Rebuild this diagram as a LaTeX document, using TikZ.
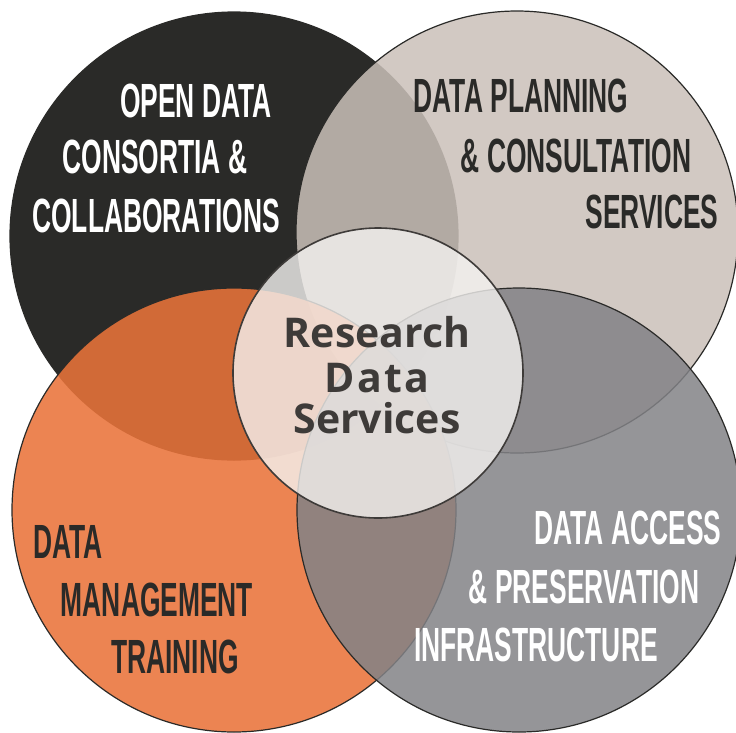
\documentclass[tikz,border=0pt]{standalone}
\usepackage{fontspec}
\usepackage{tikz}
\newfontfamily\bannerfont[FakeStretch=0.55]{Liberation Sans}
\newfontfamily\hubfont{Open Sans}
\definecolor{coal}{RGB}{42,42,40}
\definecolor{stone}{RGB}{202,192,185}
\definecolor{rust}{RGB}{233,115,58}
\definecolor{slate}{RGB}{130,130,134}
\definecolor{mist}{RGB}{244,242,240}
\definecolor{inkgrey}{RGB}{62,59,57}

\begin{document}
\begin{tikzpicture}[x=1pt,y=-1pt,
    ring/.style={draw=coal,line width=1.2pt},
    capsdark/.style={text=coal,anchor=base,inner sep=0pt,font=\bannerfont\bfseries\fontsize{48}{48}\selectfont},
    capslight/.style={capsdark,text=white},
    hub/.style={text=inkgrey,anchor=base,inner sep=0pt,font=\hubfont\bfseries\fontsize{41}{41}\selectfont}]
  \useasboundingbox (0,0) rectangle (736,732);
  % the four service areas
  \filldraw[ring,fill=coal] (234,236) circle[radius=224pt];
  \filldraw[ring,fill=stone,fill opacity=0.855] (517,232) circle[radius=221pt];
  \filldraw[ring,fill=rust,fill opacity=0.88] (234,510) circle[radius=222pt];
  \filldraw[ring,fill=slate,fill opacity=0.85] (519,510) circle[radius=222pt];
  % centre
  \filldraw[draw=inkgrey,line width=1.6pt,fill=mist,fill opacity=0.8] (378,373) circle[radius=145pt];

  \node[capslight] (open1) at (196,117) {OPEN DATA};
  \node[capslight] (open2) at (155,173) {CONSORTIA \&};
  \node[capslight] (open3) at (156,232) {COLLABORATIONS};

  \node[capsdark] (plan1) at (521,112) {DATA PLANNING};
  \node[capsdark] (plan2) at (576,172) {\& CONSULTATION};
  \node[capsdark] (plan3) at (652,228) {SERVICES};

  \node[capsdark] (train1) at (68,558) {DATA};
  \node[capsdark] (train2) at (157,616) {MANAGEMENT};
  \node[capsdark] (train3) at (175,673) {TRAINING};

  \node[capslight] (access1) at (628,544) {DATA ACCESS};
  \node[capslight] (access2) at (584,603) {\& PRESERVATION};
  \node[capslight] (access3) at (536,661) {INFRASTRUCTURE};

  \node[hub] (rds1) at (377,347) {Research};
  \node[hub] (rds2) at (377,392) {\addfontfeature{LetterSpace=6}Data};
  \node[hub] (rds3) at (377,433) {Services};
\end{tikzpicture}
\end{document}
